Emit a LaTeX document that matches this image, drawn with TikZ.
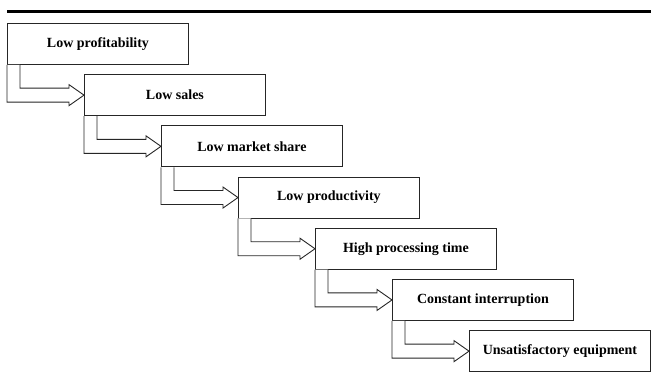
\documentclass[tikz,border=0pt]{standalone}
\usepackage{fontspec}
\setmainfont{Liberation Serif}
\usetikzlibrary{calc}
\begin{document}
\begin{tikzpicture}[x=1pt,y=-1pt,
  stepbox/.style={draw=black!85, line width=0.9pt, rectangle, anchor=north west,
    minimum width=181pt, minimum height=41pt, inner sep=0pt,
    font=\fontsize{14}{16}\selectfont\bfseries, fill=white},
  blockarrow/.style={draw=black!85, line width=0.9pt, fill=white, line join=miter}]
\useasboundingbox (0,0) rectangle (651,379);
\draw[line width=3pt] (7,12) -- (651,12);
\node[stepbox] (b1) at (7,23) {Low profitability};
\node[stepbox] (b2) at (84,74.2) {Low sales};
\node[stepbox] (b3) at (161,125.4) {Low market share};
\node[stepbox] (b4) at (238,176.6) {Low productivity};
\node[stepbox] (b5) at (315,227.8) {High processing time};
\node[stepbox] (b6) at (392,279) {Constant interruption};
\node[stepbox] (b7) at (469,330.2) {Unsatisfactory equipment};
\foreach \a/\b in {b1/b2,b2/b3,b3/b4,b4/b5,b5/b6,b6/b7}{
  \draw[blockarrow] (\a.south west) |- ($(\b.west)+(-15,7)$) -- ($(\b.west)+(-15,10.5)$)
    -- (\b.west) -- ($(\b.west)+(-15,-10.5)$) -- ($(\b.west)+(-15,-7)$)
    -| ($(\a.south west)+(13,0)$);
}
\end{tikzpicture}
\end{document}
